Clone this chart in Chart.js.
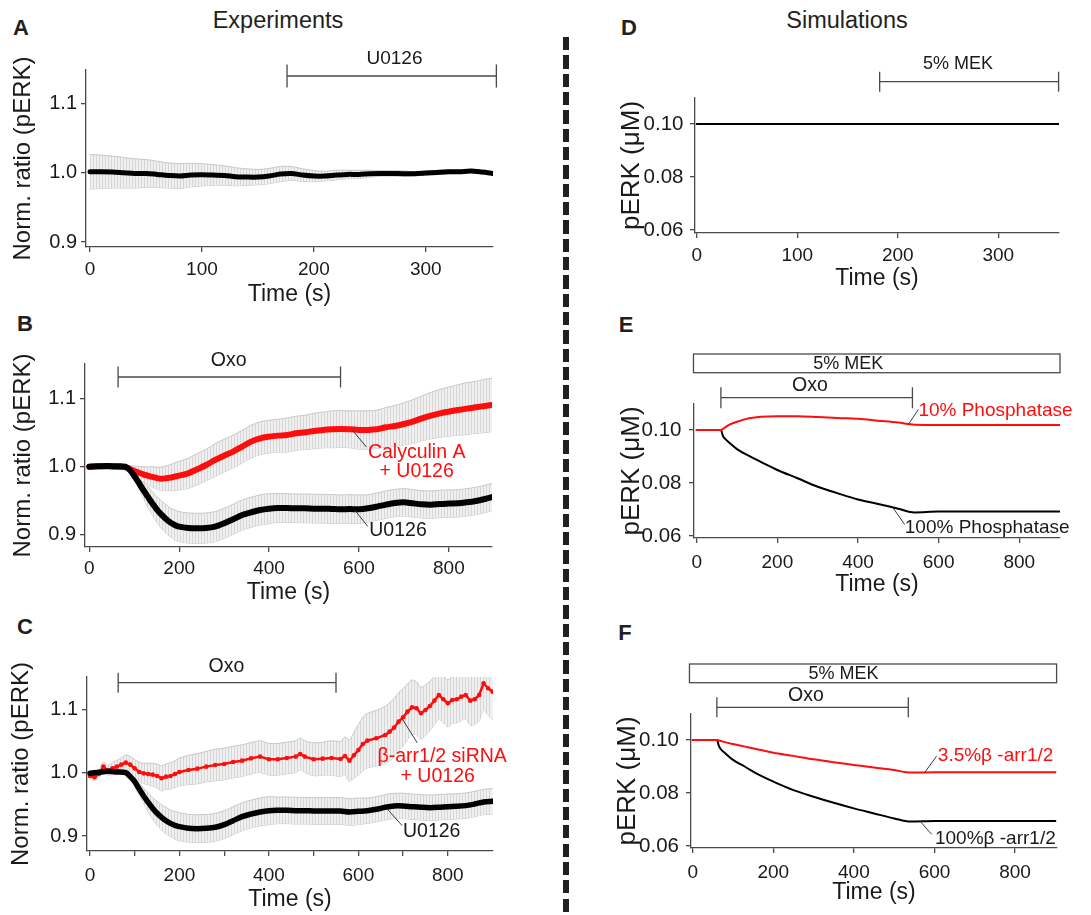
<!DOCTYPE html>
<html>
<head>
<meta charset="utf-8">
<script src="https://cdn.jsdelivr.net/npm/chart.js@4.4.1/dist/chart.umd.min.js"></script>
<style>
body{margin:0;width:1091px;height:915px;background:#fff;position:relative;overflow:hidden;font-family:'Liberation Sans',Arial,sans-serif;color:#231f20}
canvas{position:absolute}
.t{position:absolute;line-height:1;white-space:nowrap;transform:translateX(-50%)}
.h{font-size:23.5px}
.l{font-size:22px;font-weight:bold}
#dash{position:absolute;left:563px;top:37px;width:6px;height:878px;background:repeating-linear-gradient(to bottom,#231f20 0,#231f20 13.3px,transparent 13.3px,transparent 18.33px)}
</style>
</head>
<body>
<div class="t h" style="left:278px;top:9px">Experiments</div>
<div class="t h" style="left:847px;top:9px">Simulations</div>
<div class="t l" style="left:21px;top:16.5px">A</div>
<div class="t l" style="left:25px;top:312.5px">B</div>
<div class="t l" style="left:25px;top:616px">C</div>
<div class="t l" style="left:629px;top:16.5px">D</div>
<div class="t l" style="left:626px;top:313.5px">E</div>
<div class="t l" style="left:625px;top:621.5px">F</div>
<div id="dash"></div>

<canvas id="cA" width="545" height="275" style="left:0;top:40px"></canvas>
<canvas id="cB" width="545" height="280" style="left:0;top:335px"></canvas>
<canvas id="cC" width="545" height="275" style="left:0;top:640px"></canvas>
<canvas id="cD" width="511" height="275" style="left:580px;top:40px"></canvas>
<canvas id="cE" width="511" height="280" style="left:580px;top:335px"></canvas>
<canvas id="cF" width="511" height="275" style="left:580px;top:640px"></canvas>

<script>
// ---- data ----
// A: U0126 only
const tA = [0,10,20,30,40,50,60,70,80,90,100,110,120,130,140,150,160,170,180,190,200,210,220,230,240,250,260,270,280,290,300,310,320,330,340,350,360];
const vA = [1.0014,1.0014,1.001,1.0,0.999,0.999,0.9976,0.9961,0.9952,0.9966,0.9971,0.9966,0.9961,0.9942,0.9937,0.9937,0.9952,0.9981,0.999,0.9966,0.9952,0.9952,0.9966,0.9976,0.9976,0.9986,0.999,0.999,0.9986,0.9986,0.9995,1.0005,1.0014,1.0014,1.0024,1.001,0.999];
const eA = [0.025,0.024,0.023,0.022,0.021,0.02,0.019,0.018,0.018,0.017,0.016,0.015,0.014,0.013,0.012,0.011,0.011,0.011,0.01,0.009,0.008,0.007,0.007,0.006,0.006,0.005,0.004,0.004,0.004,0.003,0.003,0.003,0.003,0.002,0.002,0.002,0.002];

// B and C share the time grid of the black traces
const tB = [0,20,40,60,80,90,100,110,120,130,140,150,160,170,180,190,200,220,240,260,280,300,320,340,360,380,400,420,440,460,480,500,520,540,560,580,600,620,640,660,680,700,720,740,760,780,800,820,840,860,880,900];
const redB = [1.0,1.0005,1.0005,1.0,0.999,0.9966,0.9937,0.9912,0.9888,0.9868,0.9849,0.9834,0.9824,0.9829,0.9839,0.9854,0.9868,0.9902,0.9961,1.0024,1.0098,1.0161,1.022,1.0293,1.0366,1.0415,1.0439,1.0454,1.0463,1.0488,1.0502,1.0522,1.0537,1.0546,1.0551,1.0546,1.0537,1.0537,1.0546,1.0576,1.0595,1.0624,1.0659,1.0707,1.0746,1.078,1.0805,1.0829,1.0849,1.0868,1.0888,1.0907];
const redBerr = [0.002,0.002,0.002,0.002,0.003,0.005,0.007,0.009,0.011,0.013,0.015,0.016,0.017,0.018,0.019,0.02,0.021,0.022,0.023,0.023,0.024,0.024,0.024,0.024,0.024,0.024,0.024,0.024,0.025,0.025,0.025,0.026,0.026,0.027,0.027,0.027,0.028,0.028,0.028,0.029,0.03,0.031,0.032,0.033,0.034,0.035,0.036,0.037,0.038,0.038,0.039,0.039];
const blackB = [1.0,1.0005,1.001,1.0005,1.0,0.9951,0.9863,0.9766,0.9659,0.9561,0.9463,0.9376,0.9302,0.9239,0.9185,0.9146,0.9122,0.9102,0.9098,0.9102,0.9122,0.9171,0.9229,0.9293,0.9332,0.9366,0.9385,0.9395,0.9395,0.939,0.939,0.9385,0.9385,0.938,0.9376,0.938,0.9376,0.939,0.9415,0.9444,0.9468,0.9478,0.9463,0.9449,0.9444,0.9454,0.9459,0.9463,0.9478,0.9498,0.9527,0.9561];
const blackBerr = [0.002,0.002,0.002,0.002,0.002,0.004,0.006,0.009,0.012,0.015,0.017,0.019,0.02,0.021,0.021,0.022,0.022,0.022,0.022,0.022,0.022,0.022,0.022,0.022,0.022,0.022,0.022,0.021,0.021,0.021,0.021,0.021,0.021,0.021,0.021,0.021,0.021,0.02,0.02,0.02,0.02,0.02,0.02,0.02,0.02,0.02,0.02,0.02,0.02,0.02,0.02,0.02];

const tCred = [0,10,20,30,40,50,60,70,80,90,100,110,120,130,140,150,160,170,180,190,200,220,240,260,280,300,320,340,360,380,400,420,440,460,470,480,500,520,540,560,570,580,590,600,610,620,640,660,670,680,690,700,710,720,730,740,750,760,770,780,790,800,810,820,830,840,850,860,870,880,890,900];
const redC = [0.9947,0.9926,0.9979,1.0095,1.0032,1.0068,1.0095,1.0126,1.0158,1.0126,1.0068,1.0011,0.9989,0.9979,0.9968,0.9947,0.9911,0.9937,0.9947,0.9979,1.0011,1.0042,1.0063,1.0095,1.0121,1.0137,1.0168,1.0189,1.0226,1.0253,1.0211,1.0211,1.0232,1.0253,1.0295,1.0253,1.0211,1.0221,1.0232,1.0216,1.0263,1.0189,1.0274,1.0358,1.0453,1.0505,1.0542,1.0595,1.0647,1.0711,1.0805,1.0874,1.0963,1.1032,1.1016,1.0937,1.0989,1.1053,1.1137,1.1226,1.1158,1.1095,1.1147,1.1158,1.12,1.1226,1.1137,1.1158,1.1226,1.1411,1.1332,1.1279];
const redCerr = [0.004,0.005,0.006,0.007,0.008,0.009,0.01,0.011,0.012,0.013,0.014,0.015,0.016,0.017,0.018,0.019,0.02,0.02,0.021,0.021,0.022,0.023,0.024,0.024,0.025,0.025,0.025,0.025,0.025,0.025,0.025,0.025,0.025,0.025,0.025,0.025,0.026,0.026,0.027,0.028,0.03,0.033,0.036,0.04,0.042,0.043,0.044,0.045,0.046,0.046,0.046,0.045,0.044,0.043,0.042,0.041,0.04,0.039,0.038,0.038,0.037,0.037,0.037,0.037,0.038,0.038,0.039,0.04,0.041,0.042,0.043,0.044];
const blackC = [0.9989,1.0005,1.0021,1.0011,1.0,0.9937,0.9858,0.9742,0.9632,0.9532,0.9437,0.9358,0.9295,0.9242,0.92,0.9168,0.9147,0.9121,0.9116,0.9121,0.9137,0.9179,0.9242,0.9305,0.9347,0.9379,0.94,0.9405,0.9405,0.94,0.94,0.9395,0.9395,0.9395,0.9395,0.9379,0.9389,0.94,0.9421,0.9453,0.9474,0.9474,0.9463,0.9453,0.9447,0.9453,0.9463,0.9468,0.9479,0.9505,0.9537,0.9547];
const blackCerr = [0.002,0.002,0.002,0.002,0.002,0.004,0.006,0.009,0.012,0.015,0.017,0.019,0.02,0.021,0.021,0.022,0.022,0.022,0.022,0.022,0.022,0.022,0.022,0.022,0.022,0.022,0.022,0.021,0.021,0.021,0.021,0.021,0.021,0.021,0.021,0.021,0.021,0.02,0.02,0.02,0.02,0.02,0.02,0.02,0.02,0.02,0.02,0.02,0.02,0.02,0.02,0.02];

// simulations
const tD = [0, 360];
const vD = [0.1, 0.1];
const tSim = [0,60,65,70,80,100,130,160,200,250,300,350,400,450,500,540,600,700,800,900];
const redE = [0.1,0.1,0.1004,0.1009,0.1019,0.1031,0.1044,0.105,0.1052,0.1052,0.1049,0.1045,0.1042,0.1035,0.1028,0.102,0.1019,0.1019,0.1019,0.1019];
const blackE = [0.1,0.1,0.0978,0.0967,0.0953,0.0928,0.0902,0.0879,0.0849,0.0818,0.0786,0.0761,0.0738,0.0721,0.0703,0.0689,0.0692,0.0692,0.0692,0.0692];
const redF = [0.1,0.1,0.0998,0.0996,0.0992,0.0985,0.0975,0.0965,0.0952,0.094,0.0927,0.0916,0.0906,0.0896,0.0887,0.0877,0.0878,0.0878,0.0878,0.0878];
const blackF = [0.1,0.1,0.0978,0.0965,0.0951,0.0925,0.0899,0.0872,0.0843,0.0811,0.0786,0.0763,0.0742,0.0723,0.0704,0.0692,0.0694,0.0694,0.0694,0.0694];

// treatment periods (s)
const spanU0126A = [176, 363];
const spanOxoB = [64, 559];
const spanOxoC = [63, 550];
const spanMekD = [182, 360];
const spanMekE = [-8, 901];
const spanOxoE = [60, 535];
const spanMekF = [-8, 903];
const spanOxoF = [60, 535];

// ticks
const xtA = [0,100,200,300];
const xtB = [0,200,400,600,800];
const xtC = [0,100,200,300,400,500,600,700,800];
const xlabC = [0,200,400,600,800];
const ytExp = [0.9,1.0,1.1];
const ytSim = [0.06,0.08,0.10];

// ---- drawing ----
const FONT = "'Liberation Sans', Arial, sans-serif";
Chart.defaults.font.family = FONT;
Chart.defaults.color = '#1a1a1a';
const AX = '#4a4a4a';
const RED = '#ff0d0d';

const stripe = (function(){
  const c = document.createElement('canvas'); c.width = 3; c.height = 2;
  const g = c.getContext('2d');
  g.fillStyle = '#f0f0f0'; g.fillRect(0,0,3,2);
  g.fillStyle = '#d6d6d6'; g.fillRect(0,0,1,2);
  return g.createPattern(c, 'repeat');
})();

function pts(t, v){ return t.map((x,i) => ({x:x, y:v[i]})); }

function band(t, v, e){
  return [
    {data: t.map((x,i) => ({x:x, y:v[i]+e[i]})), borderColor:'#c8c8c8', borderWidth:1, backgroundColor:stripe, fill:'+1', tension:0.3},
    {data: t.map((x,i) => ({x:x, y:v[i]-e[i]})), borderColor:'#c8c8c8', borderWidth:1, fill:false, tension:0.3}
  ];
}

const marks = {
  id: 'marks',
  afterDraw(chart, args, o){
    const ctx = chart.ctx, xs = chart.scales.x, ys = chart.scales.y;
    ctx.save();
    ctx.strokeStyle = AX; ctx.lineWidth = 1.3; ctx.textBaseline = 'middle';
    (o.boxes || []).forEach(b => {
      const x1 = xs.getPixelForValue(b.span[0]), x2 = xs.getPixelForValue(b.span[1]);
      ctx.fillStyle = '#fff';
      ctx.fillRect(x1, b.y, x2-x1, b.h);
      ctx.strokeRect(x1, b.y, x2-x1, b.h);
    });
    (o.bars || []).forEach(b => {
      const x1 = xs.getPixelForValue(b.span[0]), x2 = xs.getPixelForValue(b.span[1]);
      ctx.beginPath();
      ctx.moveTo(x1, b.y); ctx.lineTo(x2, b.y);
      ctx.moveTo(x1, b.y-b.cap); ctx.lineTo(x1, b.y+b.cap);
      ctx.moveTo(x2, b.y-b.cap); ctx.lineTo(x2, b.y+b.cap);
      ctx.stroke();
    });
    (o.texts || []).forEach(t => {
      ctx.font = t.size + 'px ' + FONT; ctx.fillStyle = '#1a1a1a'; ctx.textAlign = 'center';
      ctx.fillText(t.text, xs.getPixelForValue(t.x), t.y);
    });
    (o.callouts || []).forEach(c => {
      const px = xs.getPixelForValue(c.at[0]), py = ys.getPixelForValue(c.at[1]);
      const ex = px + c.d[0], ey = py + c.d[1];
      ctx.strokeStyle = '#3a3a3a'; ctx.lineWidth = 1;
      ctx.beginPath(); ctx.moveTo(px, py); ctx.lineTo(ex, ey); ctx.stroke();
      ctx.font = c.size + 'px ' + FONT; ctx.fillStyle = c.color;
      c.lines.forEach(l => { ctx.textAlign = l[3]; ctx.fillText(l[0], ex+l[1], ey+l[2]); });
    });
    ctx.restore();
  }
};

function build(id, g, datasets, xr, xt, xlab, yr, yt, dec, ytitle, ysize, mk){
  return new Chart(document.getElementById(id), {
    type: 'line',
    data: {datasets: datasets},
    plugins: [marks],
    options: {
      responsive: false, animation: false, events: [],
      layout: {padding: {left:0, top:g.t-g.y, right:g.x+g.w-g.r, bottom:0}},
      elements: {point: {radius:0}, line: {borderCapStyle:'round', borderJoinStyle:'round'}},
      plugins: {legend: {display:false}, tooltip: {enabled:false}, marks: mk},
      scales: {
        x: {
          type: 'linear', min: xr[0], max: xr[1],
          afterFit: s => { s.height = g.y + g.h - g.b; },
          afterBuildTicks: s => { s.ticks = xt.map(v => ({value:v})); },
          ticks: {autoSkip:false, maxRotation:0, padding:g.xp, font:{size:19}, color:'#1a1a1a',
                  callback: v => xlab.includes(v) ? String(v) : ''},
          grid: {drawOnChartArea:false, tickLength:5, color:AX, lineWidth:1.3},
          border: {color:AX, width:1.3},
          title: {display:true, text:'Time (s)', color:'#1a1a1a', font:{size:23, lineHeight:1},
                  padding: {top:0, bottom: g.y + g.h - g.xt - 11.5}}
        },
        y: {
          min: yr[0], max: yr[1],
          afterFit: s => { s.width = g.l - g.x; },
          afterBuildTicks: s => { s.ticks = yt.map(v => ({value:v})); },
          ticks: {autoSkip:false, padding:g.yp, font:{size:ysize === 26 ? 20.5 : 20}, color:'#1a1a1a',
                  callback: v => v.toFixed(dec)},
          grid: {drawOnChartArea:false, tickLength:5, color:AX, lineWidth:1.3},
          border: {color:AX, width:1.3},
          title: {display:true, text:ytitle, color:'#1a1a1a', font:{size:ysize, lineHeight:1},
                  padding: {top: g.yt - g.x - ysize/2, bottom:0}}
        }
      }
    }
  });
}

const GA = {x:0, y:40, w:545, h:275, l:86, t:70, r:493, b:247, yt:23.5, xt:294.5, xp:6.6, yp:4};
const GB = {x:0, y:335, w:545, h:280, l:85, t:364, r:492, b:547, yt:23.5, xt:593, xp:5.6, yp:4};
const GC = {x:0, y:640, w:545, h:275, l:87, t:677, r:493, b:851, yt:21.7, xt:900, xp:8.4, yp:4};
const GD = {x:580, y:40, w:511, h:275, l:695, t:98, r:1059, b:233, yt:632, xt:279, xp:6.3, yp:6.5};
const GE = {x:580, y:335, w:511, h:280, l:694, t:404, r:1060, b:538, yt:632, xt:585, xp:8, yp:7.5};
const GF = {x:580, y:640, w:511, h:275, l:691, t:714, r:1057, b:848, yt:627.5, xt:893, xp:8, yp:7};

const EXP = 'Norm. ratio (pERK)', SIM = 'pERK (\u03bcM)';

build('cA', GA,
  [{data:pts(tA, vA), borderColor:'#000', borderWidth:5, tension:0.3}].concat(band(tA, vA, eA)),
  [-3.6, 360], xtA, xtA, [0.893, 1.148], ytExp, 1, EXP, 24,
  {bars:[{span:spanU0126A, y:36, cap:11.5}], texts:[{text:'U0126', x:272, y:19, size:19}]});

build('cB', GB,
  [{data:pts(tB, blackB), borderColor:'#000', borderWidth:6, tension:0.3},
   {data:pts(tB, redB), borderColor:RED, borderWidth:6, tension:0.3}]
   .concat(band(tB, redB, redBerr), band(tB, blackB, blackBerr)),
  [-9.6, 896], xtB, xtB, [0.8824, 1.1502], ytExp, 1, EXP, 24,
  {bars:[{span:spanOxoB, y:42, cap:10.5}], texts:[{text:'Oxo', x:310, y:26, size:19.5}],
   callouts:[
     {at:[586, 1.053], d:[13.7, 16.6], size:19.5, color:RED, lines:[['Calyculin A', 50.3, 6, 'center'], ['+ U0126', 50.3, 25, 'center']]},
     {at:[590, 0.937], d:[13.3, 16.7], size:19.5, color:'#1a1a1a', lines:[['U0126', 1.5, 4, 'left']]}
   ]});

build('cC', GC,
  [{data:pts(tB, blackC), borderColor:'#000', borderWidth:5.5, tension:0.3},
   {data:pts(tCred, redC), borderColor:RED, borderWidth:2.5, pointRadius:2.3, pointBorderWidth:0, pointBackgroundColor:RED, tension:0}]
   .concat(band(tCred, redC, redCerr), band(tB, blackC, blackCerr)),
  [-6.7, 901], xtC, xlabC, [0.8763, 1.151], ytExp, 1, EXP, 24,
  {bars:[{span:spanOxoC, y:42.7, cap:10}], texts:[{text:'Oxo', x:305, y:26.7, size:19.5}],
   callouts:[
     {at:[698, 1.085], d:[15, 24], size:19.5, color:RED, lines:[['\u03b2-arr1/2 siRNA', 25, 13.5, 'center'], ['+ U0126', 20.5, 34, 'center']]},
     {at:[664, 0.943], d:[15, 16.7], size:19.5, color:'#1a1a1a', lines:[['U0126', 1, 6, 'left']]}
   ]});

build('cD', GD,
  [{data:pts(tD, vD), borderColor:'#000', borderWidth:2}],
  [-1.7, 360.4], xtA, xtA, [0.0589, 0.1098], ytSim, 2, SIM, 26,
  {bars:[{span:spanMekD, y:41.7, cap:10}], texts:[{text:'5% MEK', x:260, y:24, size:18}]});

build('cE', GE,
  [{data:pts(tSim, redE), borderColor:RED, borderWidth:2, cubicInterpolationMode:'monotone'},
   {data:pts(tSim, blackE), borderColor:'#000', borderWidth:2, cubicInterpolationMode:'monotone'}],
  [-6.7, 901], xtB, xtB, [0.05925, 0.1098], ytSim, 2, SIM, 26,
  {boxes:[{span:spanMekE, y:19, h:18.7}],
   bars:[{span:spanOxoE, y:62.7, cap:10.5}],
   texts:[{text:'5% MEK', x:376, y:29.3, size:18}, {text:'Oxo', x:281, y:51, size:19.5}],
   callouts:[
     {at:[525, 0.1021], d:[10, -15], size:19, color:RED, lines:[['10% Phosphatase', 0, 1, 'left']]},
     {at:[487, 0.0706], d:[11.7, 16.7], size:19, color:'#1a1a1a', lines:[['100% Phosphatase', 0, 2.7, 'left']]}
   ]});

build('cF', GF,
  [{data:pts(tSim, redF), borderColor:RED, borderWidth:2, cubicInterpolationMode:'monotone'},
   {data:pts(tSim, blackF), borderColor:'#000', borderWidth:2, cubicInterpolationMode:'monotone'}],
  [-4.2, 904], xtB, xtB, [0.05925, 0.1098], ytSim, 2, SIM, 26,
  {boxes:[{span:spanMekF, y:24, h:18.7}],
   bars:[{span:spanOxoF, y:67.3, cap:10}],
   texts:[{text:'5% MEK', x:374, y:34, size:18}, {text:'Oxo', x:281, y:56, size:19.5}],
   callouts:[
     {at:[576, 0.0878], d:[11.7, -16], size:19, color:RED, lines:[['3.5%\u03b2 -arr1/2', 1.3, -0.7, 'left']]},
     {at:[564, 0.0694], d:[11.7, 13.3], size:19, color:'#1a1a1a', lines:[['100%\u03b2 -arr1/2', 3.3, 4.3, 'left']]}
   ]});
</script>
</body>
</html>
